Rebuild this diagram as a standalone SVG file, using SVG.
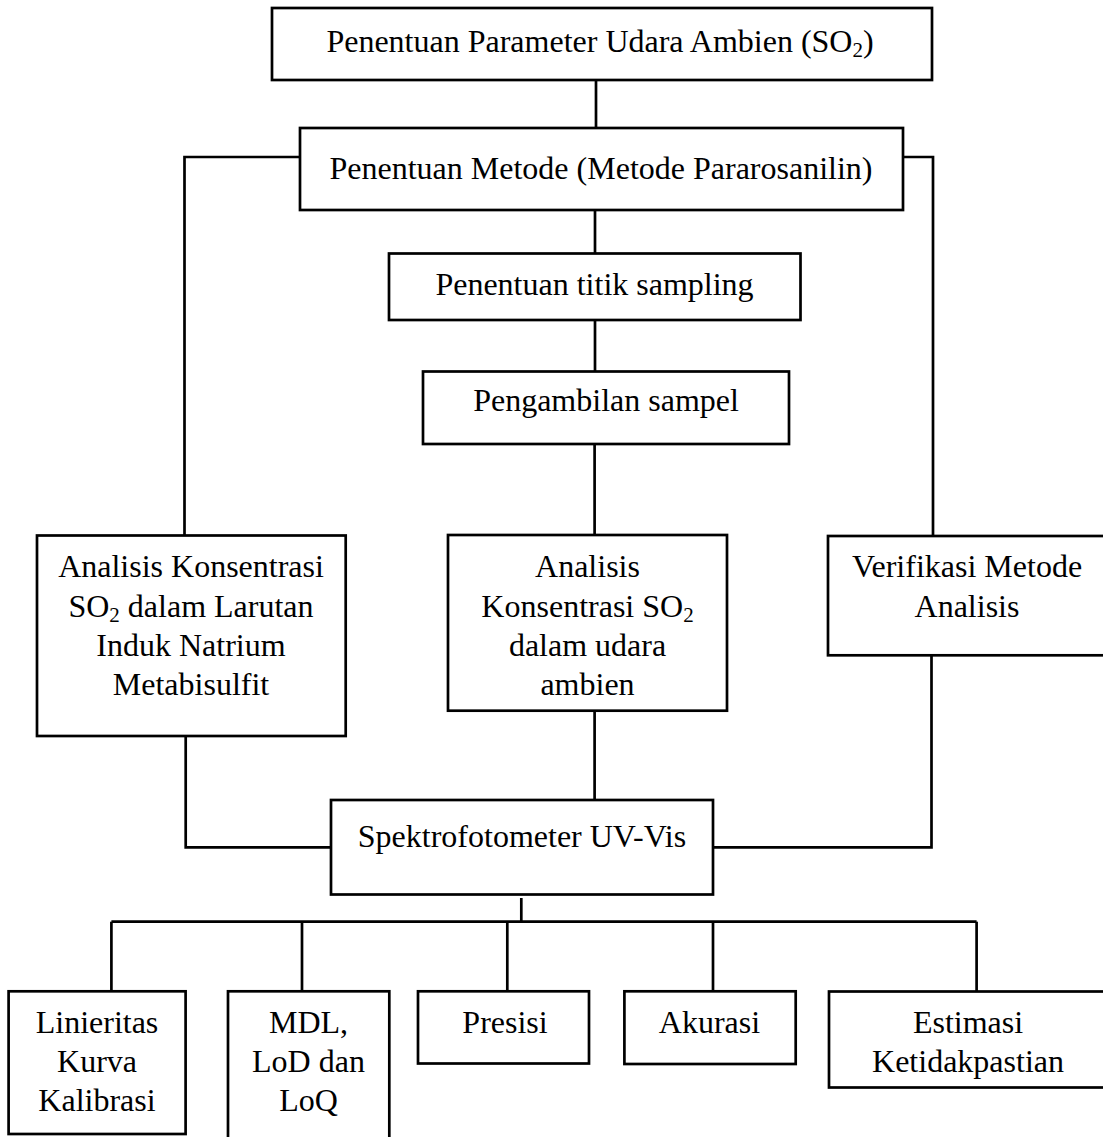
<svg xmlns="http://www.w3.org/2000/svg" width="1103" height="1137" viewBox="0 0 1103 1137">
<style>
  .box { fill: #ffffff; stroke: #000000; stroke-width: 2.7; }
  .con { fill: none; stroke: #000000; stroke-width: 2.7; }
  text { font-family: "Liberation Serif", "Times New Roman", serif; font-size: 32px; fill: #000000; text-anchor: middle; }
  .sub { font-size: 21px; }
</style>
<rect width="1103" height="1137" fill="#ffffff"/>
<g id="connectors">
  <path class="con" d="M596,80 V128"/>
  <path class="con" d="M300,157 H184.5 V535.5"/>
  <path class="con" d="M903,157 H933 V536"/>
  <path class="con" d="M595,210 V253.5"/>
  <path class="con" d="M595,320 V371.5"/>
  <path class="con" d="M594.6,444 V535"/>
  <path class="con" d="M185.7,736 V847.3 H331"/>
  <path class="con" d="M594.6,710.7 V800"/>
  <path class="con" d="M931.5,655.3 V847.3 H713"/>
  <path class="con" d="M521.3,898 V921.7"/>
  <path class="con" d="M111.4,921.7 H976.6"/>
  <path class="con" d="M111.4,921.7 V991.3"/>
  <path class="con" d="M302,921.7 V991.3"/>
  <path class="con" d="M507.3,921.7 V991.3"/>
  <path class="con" d="M713,921.7 V991.3"/>
  <path class="con" d="M976.6,921.7 V991.3"/>
</g>
<g id="n-parameter">
  <rect class="box" x="272" y="8" width="660" height="72"/>
  <text x="600" y="52">Penentuan Parameter Udara Ambien (SO<tspan class="sub" dy="5">2</tspan><tspan dy="-5">)</tspan></text>
</g>
<g id="n-metode">
  <rect class="box" x="300" y="128" width="603" height="82"/>
  <text x="601" y="179">Penentuan Metode (Metode Pararosanilin)</text>
</g>
<g id="n-titik">
  <rect class="box" x="389" y="253.5" width="411.5" height="66.5"/>
  <text x="594.5" y="295">Penentuan titik sampling</text>
</g>
<g id="n-sampel">
  <rect class="box" x="423" y="371.5" width="366" height="72.5"/>
  <text x="606" y="411">Pengambilan sampel</text>
</g>
<g id="n-larutan">
  <rect class="box" x="37" y="535.5" width="308.7" height="200.5"/>
  <text x="191" y="577">Analisis Konsentrasi</text>
  <text x="191" y="617">SO<tspan class="sub" dy="5">2</tspan><tspan dy="-5"> dalam Larutan</tspan></text>
  <text x="191" y="656">Induk Natrium</text>
  <text x="191" y="695">Metabisulfit</text>
</g>
<g id="n-udara">
  <rect class="box" x="448" y="535" width="279" height="175.7"/>
  <text x="587.5" y="577">Analisis</text>
  <text x="587.5" y="617">Konsentrasi SO<tspan class="sub" dy="5">2</tspan></text>
  <text x="587.5" y="656">dalam udara</text>
  <text x="587.5" y="695">ambien</text>
</g>
<g id="n-verifikasi">
  <rect class="box" x="828" y="536" width="285" height="119.3"/>
  <text x="967" y="577">Verifikasi Metode</text>
  <text x="967" y="617">Analisis</text>
</g>
<g id="n-spektro">
  <rect class="box" x="331" y="800" width="382" height="94.5"/>
  <text x="522" y="847">Spektrofotometer UV-Vis</text>
</g>
<g id="n-linieritas">
  <rect class="box" x="8.6" y="991.3" width="177" height="142.7"/>
  <text x="97" y="1032.5">Linieritas</text>
  <text x="97" y="1072">Kurva</text>
  <text x="97" y="1111">Kalibrasi</text>
</g>
<g id="n-mdl">
  <rect class="box" x="228" y="991.3" width="161.3" height="160"/>
  <text x="308.5" y="1032.5">MDL,</text>
  <text x="308.5" y="1072">LoD dan</text>
  <text x="308.5" y="1111">LoQ</text>
</g>
<g id="n-presisi">
  <rect class="box" x="418" y="991.3" width="171" height="72.2"/>
  <text x="505" y="1032.5">Presisi</text>
</g>
<g id="n-akurasi">
  <rect class="box" x="624.4" y="991.3" width="171.3" height="72.7"/>
  <text x="709.5" y="1032.5">Akurasi</text>
</g>
<g id="n-estimasi">
  <rect class="box" x="829" y="991.5" width="285" height="96"/>
  <text x="968" y="1032.5">Estimasi</text>
  <text x="968" y="1072">Ketidakpastian</text>
</g>
</svg>
